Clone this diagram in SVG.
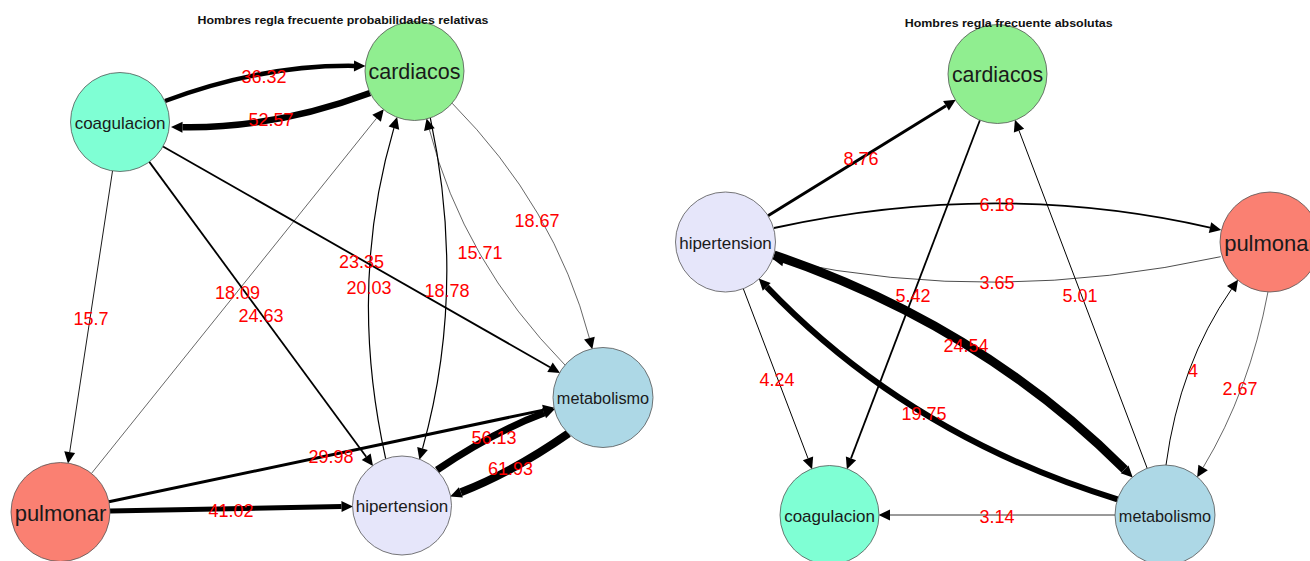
<svg xmlns="http://www.w3.org/2000/svg" width="1310" height="561" viewBox="0 0 1310 561">
  <defs>
    <style>
      .edge { fill: none; stroke: #000; stroke-linecap: butt; marker-end: url(#ah); }
      .node { stroke: #555; stroke-width: 0.8; }
      .nlabel { font-family: "Liberation Sans", Arial, sans-serif; fill: #1a1a1a; text-anchor: middle; }
      .elabel { font-family: "Liberation Sans", Arial, sans-serif; font-size: 18px; fill: #ff0000; text-anchor: middle; }
      .title { font-family: "Liberation Sans", Arial, sans-serif; font-size: 11.5px; font-weight: bold; fill: #111; text-anchor: middle; }
      .coag { fill: #7fffd4; }
      .card { fill: #90ee90; }
      .meta { fill: #add8e6; }
      .hipe { fill: #e6e6fa; }
      .pulm { fill: #fa8072; }
    </style>
    <marker id="ah" viewBox="0 -6 12 12" refX="0" refY="0" markerWidth="12" markerHeight="12" markerUnits="userSpaceOnUse" orient="auto" overflow="visible">
      <path d="M0,-5.5 L11.5,0 L0,5.5 Z" fill="#000"/>
    </marker>
  </defs>

  <rect x="0" y="0" width="1310" height="561" fill="#fff"/>

  <!-- Left network: relative probabilities -->
  <g id="connectors-left">
    <path class="edge" stroke-width="0.9" d="M112.5,171 L69.7,452.1"/>
    <path class="edge" stroke-width="0.6" d="M91.5,473.4 L376.6,118.2"/>
    <path class="edge" stroke-width="1.8" d="M149.3,161.9 L366.2,456.7"/>
    <path class="edge" stroke-width="1.8" d="M163,146.5 L550,367.2"/>
    <path class="edge" stroke-width="3" d="M108.9,501.8 L543.3,410.1"/>
    <path class="edge" stroke-width="5" d="M110,511.1 L341.5,506.6"/>
    <path class="edge" stroke-width="4.5" d="M165,101 Q261.7,64.8 354,65.9"/>
    <path class="edge" stroke-width="6.5" d="M370,93 Q274,128.7 182.5,127.2"/>
    <path class="edge" stroke-width="1.2" d="M385.7,458.8 Q347.4,286.7 393.9,128.1"/>
    <path class="edge" stroke-width="1.2" d="M430.3,117.9 Q466.9,289.8 422.5,448.6"/>
    <path class="edge" stroke-width="0.6" d="M452.1,103.2 Q555.1,207.1 589.4,338.1"/>
    <path class="edge" stroke-width="0.6" d="M565,365 Q462.7,260.6 429.4,129.6"/>
    <path class="edge" stroke-width="7" d="M437,470 Q492,432.5 544.1,413.05"/>
    <path class="edge" stroke-width="8" d="M568.5,433.4 Q513.3,471.9 460.9,492.3"/>

    <text class="elabel" x="264" y="82.5">36.32</text>
    <text class="elabel" x="271" y="125.5">52.57</text>
    <text class="elabel" x="537" y="226.5">18.67</text>
    <text class="elabel" x="480" y="258.5">15.71</text>
    <text class="elabel" x="361.5" y="267.5">23.35</text>
    <text class="elabel" x="369" y="293.5">20.03</text>
    <text class="elabel" x="447" y="296.5">18.78</text>
    <text class="elabel" x="237.5" y="298.5">18.09</text>
    <text class="elabel" x="261" y="321.5">24.63</text>
    <text class="elabel" x="91" y="324.5">15.7</text>
    <text class="elabel" x="331" y="462.5">29.98</text>
    <text class="elabel" x="494" y="443.5">56.13</text>
    <text class="elabel" x="510.5" y="474.5">61.93</text>
    <text class="elabel" x="231" y="516.5">41.02</text>
  </g>

  <g id="L-coagulacion">
    <circle class="node coag" cx="120" cy="122" r="49.5"/>
    <text class="nlabel" x="120" y="128.8" font-size="17">coagulacion</text>
  </g>
  <g id="L-cardiacos">
    <circle class="node card" cx="414.5" cy="71" r="49.5"/>
    <text class="nlabel" x="414.5" y="79" font-size="21.5">cardiacos</text>
  </g>
  <g id="L-metabolismo">
    <circle class="node meta" cx="603" cy="397.5" r="50"/>
    <text class="nlabel" x="603" y="404" font-size="16.3">metabolismo</text>
  </g>
  <g id="L-hipertension">
    <circle class="node hipe" cx="402" cy="505.5" r="49.5"/>
    <text class="nlabel" x="402" y="512.3" font-size="17">hipertension</text>
  </g>
  <g id="L-pulmonar">
    <circle class="node pulm" cx="60.5" cy="512" r="49.5"/>
    <text class="nlabel" x="60.5" y="520.5" font-size="22">pulmonar</text>
  </g>

  <!-- Right network: absolute values -->
  <g id="connectors-right">
    <path class="edge" stroke-width="3" d="M768,215.7 L946,105.8"/>
    <path class="edge" stroke-width="1.8" d="M979.9,120.3 L851,458.4"/>
    <path class="edge" stroke-width="1" d="M1147.2,468.3 L1019,130.6"/>
    <path class="edge" stroke-width="1" d="M743.3,288.7 L808,458.4"/>
    <path class="edge" stroke-width="0.8" d="M1115,515 L890,515"/>
    <path class="edge" stroke-width="1.8" d="M774,228 Q997.35,179 1210,227.55"/>
    <path class="edge" stroke-width="0.7" d="M1220.7,256.7 Q996.7,305.6 783.5,260.8"/>
    <path class="edge" stroke-width="9" d="M774,255 Q979,324.4 1124.6,469.4"/>
    <path class="edge" stroke-width="6" d="M1117.5,499.3 Q909.5,436 766.7,286.9"/>
    <path class="edge" stroke-width="1" d="M1166,465 Q1179.5,363.9 1231.5,289.2"/>
    <path class="edge" stroke-width="0.6" d="M1268,291.7 Q1249.5,390.7 1203.1,467.5"/>

    <text class="elabel" x="861" y="164.5">8.76</text>
    <text class="elabel" x="997" y="210.5">6.18</text>
    <text class="elabel" x="997" y="288.5">3.65</text>
    <text class="elabel" x="913" y="301.5">5.42</text>
    <text class="elabel" x="1080" y="301.5">5.01</text>
    <text class="elabel" x="966" y="351.5">24.54</text>
    <text class="elabel" x="1193" y="376.5">4</text>
    <text class="elabel" x="1240" y="394.5">2.67</text>
    <text class="elabel" x="777" y="385.5">4.24</text>
    <text class="elabel" x="924" y="419.5">19.75</text>
    <text class="elabel" x="997" y="522.5">3.14</text>
  </g>

  <g id="R-cardiacos">
    <circle class="node card" cx="997.5" cy="74" r="49.5"/>
    <text class="nlabel" x="997.5" y="82" font-size="21.3">cardiacos</text>
  </g>
  <g id="R-hipertension">
    <circle class="node hipe" cx="725.5" cy="242" r="50"/>
    <text class="nlabel" x="725.5" y="249" font-size="17">hipertension</text>
  </g>
  <g id="R-pulmonar">
    <circle class="node pulm" cx="1270" cy="242" r="50"/>
    <text class="nlabel" x="1270" y="250.5" font-size="22">pulmonar</text>
  </g>
  <g id="R-coagulacion">
    <circle class="node coag" cx="829.5" cy="515" r="49.5"/>
    <text class="nlabel" x="829.5" y="521.8" font-size="17">coagulacion</text>
  </g>
  <g id="R-metabolismo">
    <circle class="node meta" cx="1165" cy="515" r="50"/>
    <text class="nlabel" x="1165" y="521.5" font-size="16.3">metabolismo</text>
  </g>

  <!-- Plot titles -->
  <text class="title" x="343" y="23.5" textLength="291" lengthAdjust="spacingAndGlyphs">Hombres regla frecuente probabilidades relativas</text>
  <text class="title" x="1008.7" y="26.5" textLength="208" lengthAdjust="spacingAndGlyphs">Hombres regla frecuente absolutas</text>
</svg>
